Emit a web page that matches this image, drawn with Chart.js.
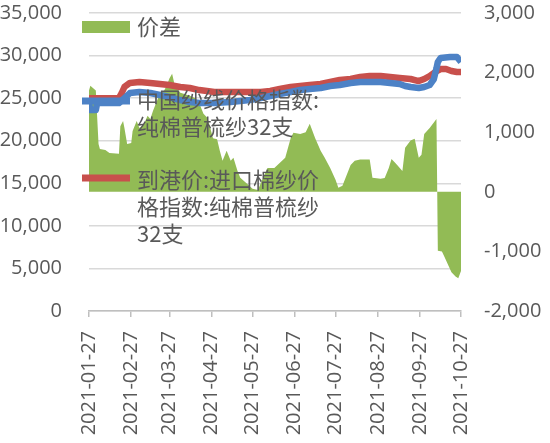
<!DOCTYPE html>
<html>
<head>
<meta charset="utf-8">
<script src="https://cdn.jsdelivr.net/npm/chart.js@4.4.1/dist/chart.umd.min.js"></script>
<style>
  html, body { margin: 0; padding: 0; background: #fff; }
  #wrap { width: 550px; height: 443px; }
</style>
</head>
<body>
<div id="wrap"><canvas id="spreadChart"></canvas></div>
<script>
// x axis tick labels (every month on the 27th)
const tickLabels = ['2021-01-27', '2021-02-27', '2021-03-27', '2021-04-27', '2021-05-27',
    '2021-06-27', '2021-07-27', '2021-08-27', '2021-09-27', '2021-10-27'];

const seriesNames = ['价差', '中国纱线价格指数:纯棉普梳纱32支', '到港价:进口棉纱价格指数:纯棉普梳纱32支'];
// how the legend text wraps in the picture
const legendLines = [['价差'], ['中国纱线价格指数:', '纯棉普梳纱32支'], ['到港价:进口棉纱价', '格指数:纯棉普梳纱', '32支']];

// 价差 (right axis)
const spreadDates = ['2021-01-27', '2021-01-28', '2021-02-01', '2021-02-03', '2021-02-04', '2021-02-08',
    '2021-02-11', '2021-02-18', '2021-02-19', '2021-02-21', '2021-02-22', '2021-02-24', '2021-02-27',
    '2021-02-28', '2021-03-03', '2021-03-05', '2021-03-08', '2021-03-11', '2021-03-13', '2021-03-15',
    '2021-03-18', '2021-03-20', '2021-03-22', '2021-03-25', '2021-03-27', '2021-03-29', '2021-03-31',
    '2021-04-04', '2021-04-07', '2021-04-11', '2021-04-15', '2021-04-18', '2021-04-21', '2021-04-24',
    '2021-04-26', '2021-04-28', '2021-05-01', '2021-05-03', '2021-05-05', '2021-05-08', '2021-05-11',
    '2021-05-13', '2021-05-16', '2021-05-18', '2021-05-23', '2021-05-27', '2021-05-31', '2021-06-03',
    '2021-06-07', '2021-06-12', '2021-06-20', '2021-06-24', '2021-06-26', '2021-07-01', '2021-07-05',
    '2021-07-08', '2021-07-12', '2021-07-16', '2021-07-19', '2021-07-23', '2021-07-27', '2021-07-29',
    '2021-08-01', '2021-08-07', '2021-08-10', '2021-08-14', '2021-08-21', '2021-08-23', '2021-08-29',
    '2021-09-01', '2021-09-04', '2021-09-06', '2021-09-09', '2021-09-14', '2021-09-16', '2021-09-20',
    '2021-09-23', '2021-09-26', '2021-09-28', '2021-09-30', '2021-10-04', '2021-10-09', '2021-10-10',
    '2021-10-13', '2021-10-15', '2021-10-18', '2021-10-20', '2021-10-23', '2021-10-25', '2021-10-27'];
const spreadValues = [1700, 1780, 1700, 800, 720, 700,
    650, 640, 1100, 1190, 1070, 800, 820,
    1020, 1190, 1070, 1120, 1275, 1220, 1360,
    1530, 1640, 1650, 1780, 1900, 1980, 1780,
    1660, 1640, 1610, 1570, 1480, 1310, 1240,
    1070, 900, 880, 690, 520, 690, 520,
    570, 350, 235, 134, 50, 30, 200,
    400, 400, 570, 900, 990, 970, 1000,
    1140, 900, 690, 570, 400, 200, 70,
    100, 450, 520, 540, 540, 235, 220,
    230, 400, 550, 480, 350, 740, 860,
    890, 570, 620, 970, 1070, 1220, -990,
    -1000, -1100, -1250, -1350, -1420, -1450, -1330];

// 中国纱线价格指数 (left axis)
const chinaDates = ['2021-01-27', '2021-01-28', '2021-02-01', '2021-02-02', '2021-02-18', '2021-02-22',
    '2021-02-26', '2021-03-05', '2021-03-13', '2021-03-20', '2021-03-27', '2021-04-04', '2021-04-11',
    '2021-04-18', '2021-04-29', '2021-05-11', '2021-05-25', '2021-06-02', '2021-06-09', '2021-06-16',
    '2021-06-24', '2021-07-01', '2021-07-08', '2021-07-16', '2021-07-23', '2021-07-30', '2021-08-07',
    '2021-08-14', '2021-08-21', '2021-08-29', '2021-09-05', '2021-09-12', '2021-09-16', '2021-09-20',
    '2021-09-26', '2021-09-30', '2021-10-04', '2021-10-07', '2021-10-09', '2021-10-10', '2021-10-12',
    '2021-10-19', '2021-10-24', '2021-10-27'];
const chinaValues = [24430, 23600, 23600, 24430, 24430, 25010,
    25600, 25720, 25600, 25370, 25130, 24780, 24550,
    24430, 24430, 24550, 24780, 25010, 25250, 25480,
    25720, 25950, 26070, 26190, 26430, 26540, 26780,
    26900, 26900, 26900, 26780, 26660, 26430, 26310,
    26190, 26310, 26540, 27200, 28500, 29240, 29710,
    29830, 29830, 29240];

// 到港价:进口棉纱价格指数 (left axis)
const importDates = ['2021-01-27', '2021-02-18', '2021-02-20', '2021-02-22', '2021-02-26', '2021-03-05',
    '2021-03-13', '2021-03-20', '2021-03-27', '2021-04-04', '2021-04-11', '2021-04-18', '2021-04-29',
    '2021-05-11', '2021-05-25', '2021-06-02', '2021-06-09', '2021-06-16', '2021-06-24', '2021-07-01',
    '2021-07-08', '2021-07-16', '2021-07-23', '2021-07-30', '2021-08-07', '2021-08-14', '2021-08-21',
    '2021-08-29', '2021-09-05', '2021-09-12', '2021-09-20', '2021-09-26', '2021-09-30', '2021-10-04',
    '2021-10-08', '2021-10-12', '2021-10-16', '2021-10-20', '2021-10-24', '2021-10-27'];
const importValues = [25000, 25000, 25600, 26310, 26780, 26900,
    26780, 26660, 26540, 26310, 26190, 25950, 25720,
    25720, 25720, 25720, 25840, 26070, 26310, 26430,
    26540, 26660, 26900, 27130, 27250, 27480, 27600,
    27600, 27480, 27370, 27250, 27010, 27250, 27600,
    28070, 28420, 28420, 28190, 28070, 28070];

const GREEN = '#92bb55';
const BLUE = '#4d82c6';
const RED = '#c8504c';
const TEXT = '#595959';
const FONT = "'Open Sans', 'Noto Sans CJK SC', sans-serif";

const startMs = Date.UTC(2021, 0, 27);
function dayOf(s) {
    const p = s.split('-').map(Number);
    return Math.round((Date.UTC(p[0], p[1] - 1, p[2]) - startMs) / 86400000);
}
function toPoints(dates, values) {
    return dates.map((d, i) => ({ x: dayOf(d), y: values[i] }));
}
const tickDays = tickLabels.map(dayOf);

// legend drawn inside the plot, on top of the lines
const insideLegend = {
    id: 'insideLegend',
    afterDatasetsDraw(chart) {
        const ctx = chart.ctx;
        const a = chart.chartArea;
        const x0 = a.left - 7, x1 = a.left + 41, tx = a.left + 48;
        const rowY = [a.top + 14, a.top + 87, a.top + 167];
        const lh = 27;
        ctx.save();
        ctx.fillStyle = GREEN;
        ctx.fillRect(x0, rowY[0] - 6, x1 - x0, 12);
        ctx.lineWidth = 7;
        ctx.strokeStyle = BLUE;
        ctx.beginPath(); ctx.moveTo(x0, rowY[1] + 1); ctx.lineTo(x1, rowY[1] + 1); ctx.stroke();
        ctx.strokeStyle = RED;
        ctx.beginPath(); ctx.moveTo(x0, rowY[2] - 2); ctx.lineTo(x1, rowY[2] - 2); ctx.stroke();
        ctx.fillStyle = TEXT;
        ctx.font = "22px 'Noto Sans CJK SC', sans-serif";
        ctx.textBaseline = 'middle';
        legendLines.forEach((lines, i) => {
            lines.forEach((t, j) => ctx.fillText(t, tx, rowY[i] + j * lh));
        });
        ctx.restore();
    }
};

function fixWidth(w) {
    return scale => {
        scale.width = w;
        scale.paddingTop = 0;
        scale.paddingBottom = 0;
    };
}

const ctx = document.getElementById('spreadChart').getContext('2d');
new Chart(ctx, {
    type: 'line',
    data: {
        datasets: [{
            label: seriesNames[1],
            data: toPoints(chinaDates, chinaValues),
            borderColor: BLUE,
            borderWidth: 6.5,
            pointRadius: 0,
            borderJoinStyle: 'round',
            yAxisID: 'y',
            order: 0
        }, {
            label: seriesNames[2],
            data: toPoints(importDates, importValues),
            borderColor: RED,
            borderWidth: 6.5,
            pointRadius: 0,
            borderJoinStyle: 'round',
            yAxisID: 'y',
            order: 1
        }, {
            label: seriesNames[0],
            data: toPoints(spreadDates, spreadValues),
            borderWidth: 0,
            pointRadius: 0,
            backgroundColor: GREEN,
            fill: 'origin',
            yAxisID: 'y1',
            order: 2
        }]
    },
    options: {
        responsive: true,
        maintainAspectRatio: false,
        animation: false,
        layout: { padding: { top: 13, left: 0, right: 0, bottom: 0 } },
        plugins: { legend: { display: false }, tooltip: { enabled: false } },
        scales: {
            x: {
                type: 'linear',
                min: 0,
                max: tickDays[tickDays.length - 1],
                afterBuildTicks: scale => { scale.ticks = tickDays.map(v => ({ value: v })); },
                afterFit: scale => {
                    scale.height = 132;
                    scale.paddingLeft = 0;
                    scale.paddingRight = 0;
                },
                grid: { drawOnChartArea: false, drawTicks: true, tickLength: 6, color: '#bfbfbf', lineWidth: 1.5 },
                border: { color: '#bfbfbf', width: 1.5 },
                ticks: {
                    autoSkip: false,
                    minRotation: 90,
                    maxRotation: 90,
                    padding: 14,
                    color: TEXT,
                    font: { family: FONT, size: 20 },
                    callback: v => tickLabels[tickDays.indexOf(v)]
                }
            },
            y: {
                position: 'left',
                min: 0,
                max: 35000,
                afterFit: fixWidth(89),
                grid: { color: '#d9d9d9', lineWidth: 1.5, drawTicks: false },
                border: { display: false },
                ticks: {
                    stepSize: 5000,
                    padding: 27,
                    color: TEXT,
                    font: { family: FONT, size: 20 },
                    callback: v => v.toLocaleString('en-US')
                }
            },
            y1: {
                position: 'right',
                min: -2000,
                max: 3000,
                afterFit: fixWidth(89),
                grid: { display: false, drawTicks: false },
                border: { display: false },
                ticks: {
                    stepSize: 1000,
                    padding: 23,
                    color: TEXT,
                    font: { family: FONT, size: 20 },
                    callback: v => v.toLocaleString('en-US')
                }
            }
        }
    },
    plugins: [insideLegend]
});
</script>
</body>
</html>
